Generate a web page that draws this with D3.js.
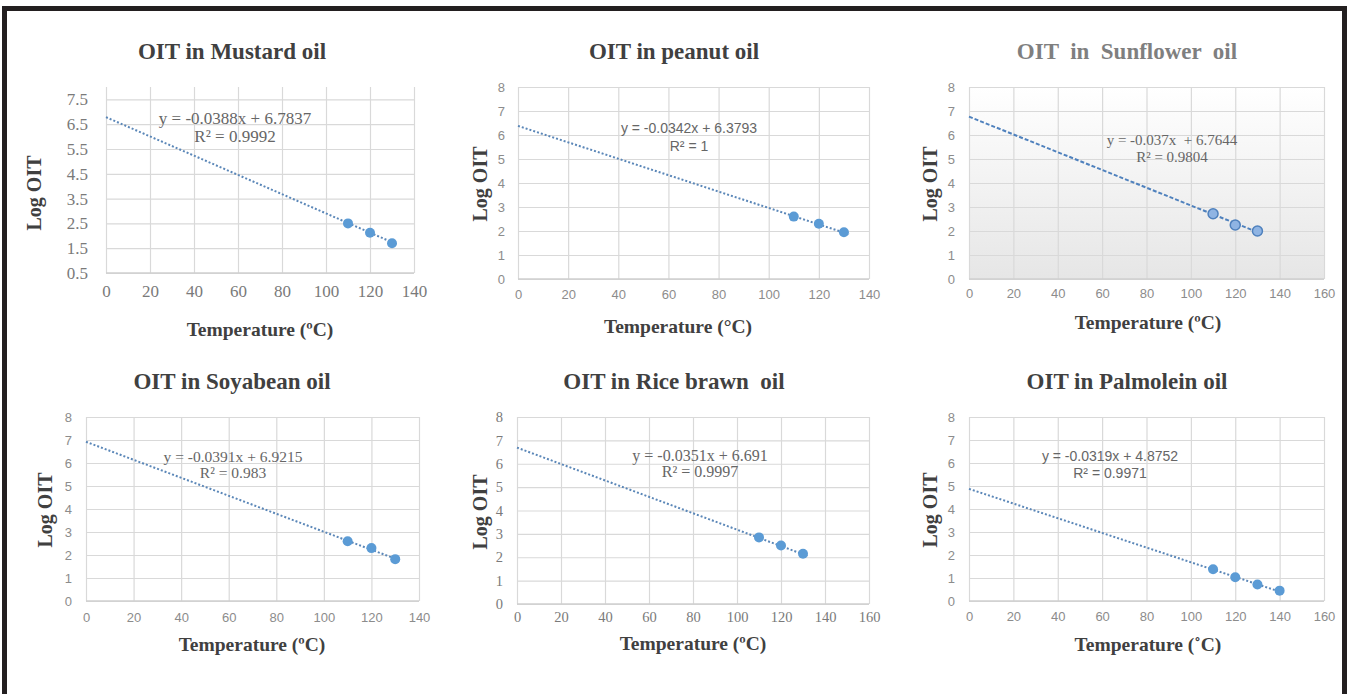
<!DOCTYPE html>
<html lang="en">
<head>
  <meta charset="UTF-8">
  <title>OIT vs Temperature</title>
  <script src="https://d3js.org/d3.v7.min.js"></script>
  <style>
    body { margin: 0; background: #fff; }
    svg { display: block; }
  </style>
</head>
<body>
  <script>
    // chart values
    const titles = ["OIT in Mustard oil", "OIT in peanut oil", "OIT  in  Sunflower  oil",
      "OIT in Soyabean oil", "OIT in Rice brawn  oil", "OIT in Palmolein oil"];
    const temps = [
      [110, 120, 130], [110, 120, 130], [110, 120, 130],
      [110, 120, 130], [110, 120, 130], [110, 120, 130, 140]
    ];
    const logOIT = [
      [2.5, 2.12, 1.7], [2.6, 2.3, 1.95], [2.72, 2.25, 2.0],
      [2.6, 2.3, 1.82], [2.85, 2.5, 2.15], [1.38, 1.03, 0.72, 0.45]
    ];
    const slopes = [-0.0388, -0.0342, -0.037, -0.0391, -0.0351, -0.0319];
    const intercepts = [6.7837, 6.3793, 6.7644, 6.9215, 6.691, 4.8752];
    const eqLabels = ["y = -0.0388x + 6.7837", "y = -0.0342x + 6.3793", "y = -0.037x  + 6.7644",
      "y = -0.0391x + 6.9215", "y = -0.0351x + 6.691", "y = -0.0319x + 4.8752"];
    const r2Labels = ["R² = 0.9992", "R² = 1", "R² = 0.9804", "R² = 0.983", "R² = 0.9997", "R² = 0.9971"];
    const xLabels = ["Temperature (ºC)", "Temperature (°C)", "Temperature (ºC)",
      "Temperature (ºC)", "Temperature (ºC)", "Temperature (˚C)"];
    const xTicks140 = [0, 20, 40, 60, 80, 100, 120, 140];
    const xTicks160 = [0, 20, 40, 60, 80, 100, 120, 140, 160];
    const yTicksHalf = [0.5, 1.5, 2.5, 3.5, 4.5, 5.5, 6.5, 7.5];
    const yTicksInt = [0, 1, 2, 3, 4, 5, 6, 7, 8];

    // layout of each panel (pixels)
    const layout = [
      { l: 106, r: 414, t: 87, b: 273, yDom: [0.5, 8], yT: yTicksHalf, xT: xTicks140,
        tx: 232, ty: 54, ylx: 36, yly: 193, xlx: 260, xly: 332, ex: 235, ey: 120, ey2: 138,
        tickFont: "serif", tickSize: 17, tickPad: 24, yPad: 18, eqFont: "serif", eqSize: 17 },
      { l: 518, r: 869, t: 87, b: 279, yDom: [0, 8], yT: yTicksInt, xT: xTicks140,
        tx: 674, ty: 54, ylx: 482, yly: 184, xlx: 678, xly: 329, ex: 689, ey: 129, ey2: 147,
        tickFont: "sans", tickSize: 13, tickPad: 20, yPad: 13, eqFont: "sans", eqSize: 14 },
      { l: 969, r: 1324, t: 87, b: 279, yDom: [0, 8], yT: yTicksInt, xT: xTicks160,
        tx: 1127, ty: 54, ylx: 932, yly: 184, xlx: 1148, xly: 325, ex: 1172, ey: 142, ey2: 159,
        tickFont: "sans", tickSize: 13, tickPad: 19, yPad: 14, eqFont: "serif", eqSize: 15, shaded: true },
      { l: 86, r: 419, t: 417, b: 601, yDom: [0, 8], yT: yTicksInt, xT: xTicks140,
        tx: 232, ty: 384, ylx: 47, yly: 510, xlx: 252, xly: 647, ex: 233, ey: 458, ey2: 474,
        tickFont: "sans", tickSize: 13, tickPad: 21, yPad: 14, eqFont: "serif", eqSize: 15.5 },
      { l: 517, r: 869, t: 417, b: 604, yDom: [0, 8], yT: yTicksInt, xT: xTicks160,
        tx: 674, ty: 384, ylx: 482, yly: 512, xlx: 693, xly: 646, ex: 700, ey: 457, ey2: 473,
        tickFont: "serif", tickSize: 14.5, tickPad: 18, yPad: 14, eqFont: "serif", eqSize: 16 },
      { l: 969, r: 1324, t: 417, b: 601, yDom: [0, 8], yT: yTicksInt, xT: xTicks160,
        tx: 1127, ty: 384, ylx: 932, yly: 510, xlx: 1148, xly: 647, ex: 1110, ey: 457, ey2: 474,
        tickFont: "sans", tickSize: 13, tickPad: 20, yPad: 14, eqFont: "sans", eqSize: 14 }
    ];

    const SERIF = "'Liberation Serif', 'Times New Roman', serif";
    const SANS = "'Liberation Sans', Arial, sans-serif";

    const svg = d3.select("body").append("svg")
      .attr("width", 1348)
      .attr("height", 694);

    const defs = svg.append("defs");
    const grad = defs.append("linearGradient")
      .attr("id", "shade").attr("x1", 0).attr("y1", 0).attr("x2", 0).attr("y2", 1);
    grad.append("stop").attr("offset", "0%").attr("stop-color", "#ffffff");
    grad.append("stop").attr("offset", "100%").attr("stop-color", "#e6e6e6");

    // outer frame
    svg.append("rect")
      .attr("x", 4.5).attr("y", 8.5)
      .attr("width", 1340).attr("height", 700)
      .attr("fill", "none")
      .attr("stroke", "#231f20")
      .attr("stroke-width", 5);

    layout.forEach((p, i) => {
      const g = svg.append("g");
      const x = d3.scaleLinear().domain([0, p.xT[p.xT.length - 1]]).range([p.l, p.r]);
      const y = d3.scaleLinear().domain(p.yDom).range([p.b, p.t]);
      const tickFam = p.tickFont === "serif" ? SERIF : SANS;
      const eqFam = p.eqFont === "serif" ? SERIF : SANS;

      if (p.shaded) {
        g.append("rect")
          .attr("x", p.l).attr("y", p.t)
          .attr("width", p.r - p.l).attr("height", p.b - p.t)
          .attr("fill", "url(#shade)");
      }

      // gridlines
      const gx = g.append("g")
        .attr("transform", `translate(0,${p.b})`)
        .call(d3.axisBottom(x).tickValues(p.xT).tickSize(-(p.b - p.t)).tickFormat(""));
      const gy = g.append("g")
        .attr("transform", `translate(${p.l},0)`)
        .call(d3.axisLeft(y).tickValues(p.yT).tickSize(-(p.r - p.l)).tickFormat(""));
      [gx, gy].forEach(a => {
        a.select(".domain").remove();
        a.selectAll("line").attr("stroke", "#d9d9d9").attr("stroke-width", 1.2);
      });
      // bottom axis line
      g.append("line")
        .attr("x1", p.l).attr("x2", p.r)
        .attr("y1", p.b).attr("y2", p.b)
        .attr("stroke", "#cfcfcf").attr("stroke-width", 1.5);

      // tick labels
      const lx = g.append("g")
        .attr("transform", `translate(0,${p.b})`)
        .call(d3.axisBottom(x).tickValues(p.xT).tickSize(0).tickPadding(p.tickPad - p.tickSize * 0.7));
      const ly = g.append("g")
        .attr("transform", `translate(${p.l},0)`)
        .call(d3.axisLeft(y).tickValues(p.yT).tickSize(0).tickPadding(p.yPad).tickFormat(d3.format("")));
      [lx, ly].forEach(a => {
        a.select(".domain").remove();
        a.selectAll("text")
          .attr("fill", p.tickFont === "serif" ? "#7a7a7a" : "#8c8c8c")
          .style("font-family", tickFam)
          .style("font-size", p.tickSize + "px");
      });

      // trendline
      const x0 = 0, x1 = d3.max(temps[i]) + 2;
      g.append("line")
        .attr("x1", x(x0)).attr("y1", y(slopes[i] * x0 + intercepts[i]))
        .attr("x2", x(x1)).attr("y2", y(slopes[i] * x1 + intercepts[i]))
        .attr("stroke", p.shaded ? "#4f81bd" : "#5b87b8")
        .attr("stroke-width", 2)
        .attr("stroke-dasharray", p.shaded ? "4,2" : "2,2");

      // points
      g.selectAll("circle.pt")
        .data(temps[i].map((t, k) => [t, logOIT[i][k]]))
        .join("circle")
        .attr("class", "pt")
        .attr("cx", d => x(d[0]))
        .attr("cy", d => y(d[1]))
        .attr("r", 5)
        .attr("fill", p.shaded ? "#8fb4e3" : "#5b9bd5")
        .attr("stroke", p.shaded ? "#4f81bd" : "none")
        .attr("stroke-width", 1.5);

      // equation + R²
      g.append("text")
        .attr("x", p.ex).attr("y", p.ey)
        .attr("text-anchor", "middle").attr("dominant-baseline", "middle")
        .style("font-family", eqFam).style("font-size", p.eqSize + "px")
        .style("white-space", "pre")
        .attr("fill", "#666")
        .text(eqLabels[i]);
      g.append("text")
        .attr("x", p.ex).attr("y", p.ey2)
        .attr("text-anchor", "middle").attr("dominant-baseline", "middle")
        .style("font-family", eqFam).style("font-size", p.eqSize + "px")
        .attr("fill", "#666")
        .text(r2Labels[i]);

      // title
      g.append("text")
        .attr("x", p.tx).attr("y", p.ty)
        .attr("text-anchor", "middle").attr("dominant-baseline", "middle")
        .style("font-family", SERIF).style("font-size", "23px").style("font-weight", "bold")
        .style("white-space", "pre")
        .attr("fill", p.shaded ? "#7f7f7f" : "#404040")
        .text(titles[i]);

      // axis titles
      g.append("text")
        .attr("transform", `translate(${p.ylx},${p.yly}) rotate(-90)`)
        .attr("text-anchor", "middle").attr("dominant-baseline", "middle")
        .style("font-family", SERIF).style("font-size", "20px").style("font-weight", "bold")
        .attr("fill", "#404040")
        .text("Log OIT");
      g.append("text")
        .attr("x", p.xlx).attr("y", p.xly)
        .attr("text-anchor", "middle").attr("dominant-baseline", "middle")
        .style("font-family", SERIF).style("font-size", "19.5px").style("font-weight", "bold")
        .attr("fill", "#404040")
        .text(xLabels[i]);
    });
  </script>
</body>
</html>
